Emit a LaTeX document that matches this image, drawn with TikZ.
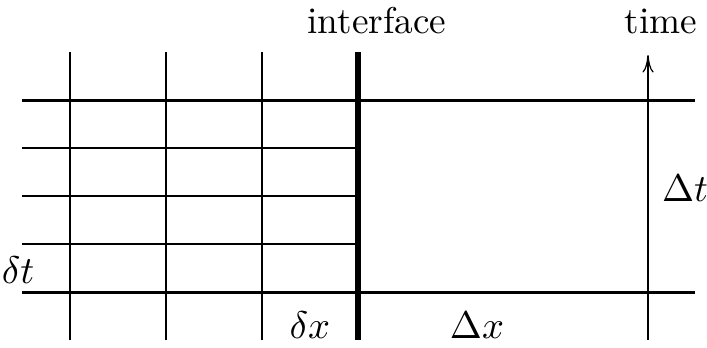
\documentclass[tikz,border=0pt]{standalone}
\usepackage{amsmath}
\usetikzlibrary{arrows.meta, positioning}
\tikzset{
    grid fine/.style={line width=0.35pt},
    grid coarse/.style={line width=0.85pt},
    grid interface/.style={line width=1.45pt},
    time arrow/.style={-{To[length=5pt,width=3.2pt]}, line width=0.35pt},
    grid label/.style={inner sep=1pt, font=\fontsize{10.6}{12}\selectfont},
}
\begin{document}
\begin{tikzpicture}[x=0.01cm, y=0.01cm]
  \useasboundingbox (0,0) rectangle (707,347);
  % fine cells left of the interface
  \foreach \xx in {70,166,262}
    \draw[grid fine] (\xx,7) -- (\xx,295);
  \foreach \yy in {103,151,199}
    \draw[grid fine] (22,\yy) -- (358,\yy);
  % coarse time levels
  \draw[grid coarse] (22,247) -- (695,247);
  \draw[grid coarse] (22,55) -- (695,55);
  % interface
  \draw[grid interface] (358,7) -- (358,295);
  % time axis
  \coordinate (tbot) at (648,7);
  \coordinate (ttop) at (648,292);
  \draw[time arrow] (tbot) -- (ttop);
  % labels
  \node[grid label] (iface) at (377,326) {interface};
  \node[grid label] (time) at (661,326) {time};
  \node[grid label] (Dt) at (685,159) {$\Delta t$};
  \node[grid label] (dt) at (18,77) {$\delta t$};
  \node[grid label] (dx) at (310,22) {$\delta x$};
  \node[grid label] (Dx) at (477,22) {$\Delta x$};
\end{tikzpicture}
\end{document}
